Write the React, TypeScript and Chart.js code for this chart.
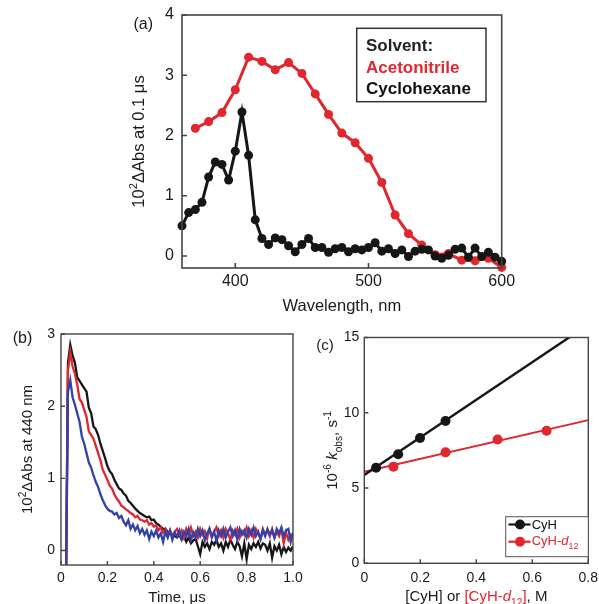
import React, { useEffect, useRef } from "react";
import { Chart, registerables } from "chart.js";
Chart.register(...registerables);

const FONT = "'Liberation Sans', Arial, Helvetica, sans-serif";
const RED = "#e0262e";
const BLACK = "#161616";
const BLUE = "#3242a8";
const FRAME = "#444444";
const TXT = "#1a1a1a";

// ---------- Panel (a) ----------
const wlAcn = [370, 380, 390, 400, 410, 420, 430, 440, 450, 460, 470, 480, 490, 500, 510, 520, 530, 540, 550, 560, 570, 580, 590, 600];
const absAcn = [2.12, 2.23, 2.38, 2.76, 3.30, 3.23, 3.09, 3.21, 3.03, 2.69, 2.35, 2.04, 1.88, 1.62, 1.22, 0.68, 0.37, 0.18, 0.02, 0.04, -0.07, -0.08, -0.04, -0.19];
const wlCy = [360, 365, 370, 375, 380, 385, 390, 395, 400, 405, 410, 415, 420, 425, 430, 435, 440, 445, 450, 455, 460, 465, 470, 475, 480, 485, 490, 495, 500, 505, 510, 515, 520, 525, 530, 535, 540, 545, 550, 555, 560, 565, 570, 575, 580, 585, 590, 595, 600];
const absCy = [0.50, 0.72, 0.77, 0.89, 1.31, 1.56, 1.52, 1.26, 1.74, 2.39, 1.67, 0.60, 0.29, 0.19, 0.30, 0.27, 0.17, 0.07, 0.19, 0.29, 0.14, 0.14, 0.06, 0.12, 0.14, 0.07, 0.12, 0.10, 0.14, 0.22, 0.08, 0.12, 0.04, 0.10, -0.01, 0.08, 0.11, 0.10, 0.00, -0.04, 0.01, 0.11, 0.13, -0.02, 0.13, -0.01, 0.06, -0.02, -0.09];
const xTicksA = [400, 500, 600];
const xTickLabelsA = ["400", "500", "600"];
const yTicksA = [0, 1, 2, 3, 4];
const yTickLabelsA = ["0", "1", "2", "3", "4"];

// ---------- Panel (b) ----------
const timeB = [0.02, 0.03, 0.04, 0.05, 0.06, 0.07, 0.08, 0.09, 0.10, 0.11,
  0.12, 0.13, 0.14, 0.15, 0.16, 0.17, 0.18, 0.19, 0.20, 0.21,
  0.22, 0.23, 0.24, 0.25, 0.26, 0.27, 0.28, 0.29, 0.30, 0.31,
  0.32, 0.33, 0.34, 0.35, 0.36, 0.37, 0.38, 0.39, 0.40, 0.41,
  0.42, 0.43, 0.44, 0.45, 0.46, 0.47, 0.48, 0.49, 0.50, 0.51,
  0.52, 0.53, 0.54, 0.55, 0.56, 0.57, 0.58, 0.59, 0.60, 0.61,
  0.62, 0.63, 0.64, 0.65, 0.66, 0.67, 0.68, 0.69, 0.70, 0.71,
  0.72, 0.73, 0.74, 0.75, 0.76, 0.77, 0.78, 0.79, 0.80, 0.81,
  0.82, 0.83, 0.84, 0.85, 0.86, 0.87, 0.88, 0.89, 0.90, 0.91,
  0.92, 0.93, 0.94, 0.95, 0.96, 0.97, 0.98, 0.99, 1.00];
const traceBlack = [-1, 2.6, 2.85, 2.7, 2.6, 2.4, 2.35, 2.3, 2.25, 2.2,
  1.98, 1.9, 1.72, 1.68, 1.6, 1.48, 1.38, 1.28, 1.17, 1.1,
  1.06, 0.98, 0.92, 0.86, 0.84, 0.79, 0.76, 0.69, 0.66, 0.62,
  0.58, 0.55, 0.52, 0.5, 0.48, 0.46, 0.47, 0.42, 0.43, 0.38,
  0.36, 0.33, 0.3, 0.3, 0.26, 0.25, 0.22, 0.2, 0.18, 0.22,
  0.15, 0.2, 0.12, 0.18, 0.1, 0.14, 0.16, 0.06, -0.05, 0.12,
  0.05, 0.1, 0.02, 0.12, 0.08, 0.15, 0.05, 0.1, 0.0, 0.12,
  0.05, 0.15, 0.08, 0.02, 0.12, 0.06, -0.08, 0.1, -0.12, 0.08,
  0.02, 0.1, 0.05, 0.12, 0.03, 0.1, 0.08, 0.0, 0.1, -0.1,
  0.06, 0.0, 0.08, -0.05, 0.05, -0.02, 0.04, 0.0, 0.06];
const traceRed = [-1, 2.5, 2.75, 2.55, 2.45, 2.3, 2.1, 2.05, 1.95, 1.85,
  1.65, 1.6, 1.55, 1.45, 1.35, 1.25, 1.12, 1.05, 0.98, 0.9,
  0.86, 0.78, 0.72, 0.68, 0.62, 0.6, 0.57, 0.55, 0.52, 0.5,
  0.46, 0.48, 0.43, 0.42, 0.4, 0.42, 0.36, 0.38, 0.33, 0.35,
  0.28, 0.32, 0.25, 0.3, 0.22, 0.28, 0.2, 0.26, 0.3, 0.22,
  0.28, 0.18, 0.3, 0.22, 0.32, 0.2, 0.26, 0.18, 0.3, 0.22,
  0.27, 0.17, 0.3, 0.2, 0.26, 0.32, 0.2, 0.28, 0.18, 0.3,
  0.24, 0.15, 0.28, 0.22, 0.3, 0.18, 0.27, 0.22, 0.32, 0.2,
  0.28, 0.18, 0.3, 0.24, 0.16, 0.3, 0.22, 0.28, 0.2, 0.3,
  0.18, 0.26, 0.2, 0.3, 0.1, 0.25, 0.15, 0.22, 0.2];
const traceBlue = [-1, 2.2, 2.36, 2.12, 2.02, 1.9, 1.78, 1.58, 1.48, 1.35,
  1.22, 1.15, 1.04, 0.95, 0.88, 0.78, 0.7, 0.63, 0.58, 0.55,
  0.54, 0.5, 0.52, 0.45, 0.48, 0.4, 0.35, 0.42, 0.3, 0.36,
  0.28, 0.34, 0.24, 0.3, 0.22, 0.28, 0.16, 0.26, 0.2, 0.28,
  0.18, 0.24, 0.12, 0.26, 0.18, 0.28, 0.15, 0.25, 0.2, 0.28,
  0.16, 0.26, 0.2, 0.3, 0.15, 0.25, 0.18, 0.3, 0.2, 0.28,
  0.14, 0.24, 0.3, 0.18, 0.26, 0.14, 0.28, 0.2, 0.3, 0.18,
  0.26, 0.32, 0.2, 0.28, 0.15, 0.3, 0.22, 0.28, 0.18, 0.3,
  0.22, 0.32, 0.2, 0.26, 0.16, 0.28, 0.2, 0.3, 0.22, 0.28,
  0.18, 0.3, 0.24, 0.32, 0.2, 0.28, 0.3, 0.12, 0.25];
const xTicksB = [0, 0.2, 0.4, 0.6, 0.8, 1.0];
const xTickLabelsB = ["0", "0.2", "0.4", "0.6", "0.8", "1.0"];
const yTicksB = [0, 1, 2, 3];
const yTickLabelsB = ["0", "1", "2", "3"];

// ---------- Panel (c) ----------
const cyhConc = [0.042, 0.121, 0.199, 0.29];
const cyhK = [6.35, 7.25, 8.32, 9.45];
const cydConc = [0.104, 0.29, 0.476, 0.651];
const cydK = [6.42, 7.37, 8.23, 8.8];
const fitConc = [0, 0.8];
const cyhFit = [5.86, 15.86];
const cydFit = [6.08, 9.51];
const xTicksC = [0, 0.2, 0.4, 0.6, 0.8];
const xTickLabelsC = ["0", "0.2", "0.4", "0.6", "0.8"];
const yTicksC = [0, 5, 10, 15];
const yTickLabelsC = ["0", "5", "10", "15"];

type Seg = { t: string; color?: string; italic?: boolean; bold?: boolean; sub?: boolean; sup?: boolean };

function drawRich(ctx: CanvasRenderingContext2D, segs: Seg[], cx: number, cy: number, size: number, rotate: boolean, align: "center" | "left" = "center") {
  ctx.save();
  ctx.translate(cx, cy);
  if (rotate) ctx.rotate(-Math.PI / 2);
  const fontFor = (s: Seg) =>
    `${s.italic ? "italic " : ""}${s.bold ? "bold " : ""}${s.sub || s.sup ? size * 0.68 : size}px ${FONT}`;
  let total = 0;
  segs.forEach((s) => {
    ctx.font = fontFor(s);
    total += ctx.measureText(s.t).width;
  });
  let x = align === "center" ? -total / 2 : 0;
  ctx.textAlign = "left";
  ctx.textBaseline = "alphabetic";
  const base = size * 0.36;
  segs.forEach((s) => {
    ctx.font = fontFor(s);
    ctx.fillStyle = s.color || TXT;
    const dy = s.sub ? size * 0.3 : s.sup ? -size * 0.42 : 0;
    ctx.fillText(s.t, x, base + dy);
    x += ctx.measureText(s.t).width;
  });
  ctx.restore();
}

function frameTicksPlugin(tickLen: number, lw: number) {
  return {
    id: "frameTicks",
    afterDatasetsDraw(chart: any) {
      const { ctx, chartArea: a, scales } = chart;
      ctx.save();
      ctx.strokeStyle = FRAME;
      ctx.lineWidth = lw;
      ctx.beginPath();
      scales.x.ticks.forEach((t: any) => {
        const px = scales.x.getPixelForValue(t.value);
        ctx.moveTo(px, a.bottom);
        ctx.lineTo(px, a.bottom - tickLen);
      });
      scales.y.ticks.forEach((t: any) => {
        const py = scales.y.getPixelForValue(t.value);
        ctx.moveTo(a.left, py);
        ctx.lineTo(a.left + tickLen, py);
      });
      ctx.stroke();
      ctx.strokeRect(a.left, a.top, a.right - a.left, a.bottom - a.top);
      ctx.restore();
    },
  };
}

function axisScale(opts: {
  min: number; max: number; ticks: number[]; labels: string[]; size: number; padding: number; axis: "x" | "y"; dim: number;
}) {
  return {
    type: "linear",
    min: opts.min,
    max: opts.max,
    grid: { display: false, drawTicks: false },
    border: { display: false },
    afterBuildTicks: (s: any) => {
      s.ticks = opts.ticks.map((v) => ({ value: v }));
    },
    afterFit: (s: any) => {
      if (opts.axis === "x") {
        s.height = opts.dim;
        s.paddingLeft = 0;
        s.paddingRight = 0;
      } else {
        s.width = opts.dim;
        s.paddingTop = 0;
        s.paddingBottom = 0;
      }
    },
    ticks: {
      autoSkip: false,
      maxRotation: 0,
      minRotation: 0,
      padding: opts.padding,
      color: TXT,
      font: { size: opts.size, family: FONT },
      callback: (_v: any, i: number) => opts.labels[i],
    },
  };
}

const baseOpts = (padding: any) => ({
  responsive: false,
  animation: false,
  events: [],
  layout: { padding, autoPadding: false },
  plugins: { legend: { display: false }, tooltip: { enabled: false } },
});

function pts(xs: number[], ys: number[]) {
  return xs.map((x, i) => ({ x, y: ys[i] }));
}

function makeA() {
  return {
    type: "scatter",
    data: {
      datasets: [
        {
          data: pts(wlCy, absCy), showLine: true, borderColor: BLACK, backgroundColor: BLACK,
          borderWidth: 3, pointRadius: 4.5, pointBorderWidth: 0, pointBackgroundColor: BLACK, clip: 6,
        },
        {
          data: pts(wlAcn, absAcn), showLine: true, borderColor: RED, backgroundColor: RED,
          borderWidth: 3, pointRadius: 4.5, pointBorderWidth: 0, pointBackgroundColor: RED, clip: 6,
        },
      ],
    },
    options: {
      ...baseOpts({ left: 0, top: 15, right: 28.3, bottom: 0 }),
      scales: {
        x: axisScale({ min: 360, max: 600, ticks: xTicksA, labels: xTickLabelsA, size: 16, padding: 4, axis: "x", dim: 52 }),
        y: axisScale({ min: -0.2, max: 4, ticks: yTicksA, labels: yTickLabelsA, size: 16, padding: 8, axis: "y", dim: 82 }),
      },
    },
    plugins: [
      frameTicksPlugin(5, 1.6),
      {
        id: "textA",
        afterDraw(chart: any) {
          const { ctx, chartArea: a } = chart;
          drawRich(ctx, [{ t: "10" }, { t: "2", sup: true }, { t: "\u0394Abs at 0.1 \u03bcs" }], a.left - 44, (a.top + a.bottom) / 2, 16.5, true);
          drawRich(ctx, [{ t: "Wavelength, nm" }], (a.left + a.right) / 2, a.bottom + 37, 16.5, false);
          drawRich(ctx, [{ t: "(a)" }], 43.3, 23, 16, false);
          // legend box
          ctx.save();
          ctx.strokeStyle = "#333";
          ctx.lineWidth = 1.5;
          ctx.fillStyle = "#fff";
          ctx.fillRect(256.7, 28.3, 129.3, 73.4);
          ctx.strokeRect(256.7, 28.3, 129.3, 73.4);
          ctx.restore();
          drawRich(ctx, [{ t: "Solvent:", bold: true, color: "#222" }], 266, 45, 17, false, "left");
          drawRich(ctx, [{ t: "Acetonitrile", bold: true, color: RED }], 266, 66.5, 17, false, "left");
          drawRich(ctx, [{ t: "Cyclohexane", bold: true, color: "#111" }], 266, 87.5, 17, false, "left");
        },
      },
    ],
  };
}

function makeB() {
  const ds = (ys: number[], c: string) => ({
    data: pts(timeB, ys), showLine: true, borderColor: c, backgroundColor: c,
    borderWidth: 2.3, pointRadius: 0, clip: 0,
  });
  return {
    type: "scatter",
    data: { datasets: [ds(traceBlue, BLUE), ds(traceRed, RED), ds(traceBlack, BLACK)] },
    options: {
      ...baseOpts({ left: 0, top: 14, right: 19, bottom: 0 }),
      scales: {
        x: axisScale({ min: 0, max: 1, ticks: xTicksB, labels: xTickLabelsB, size: 14, padding: 5, axis: "x", dim: 39 }),
        y: axisScale({ min: -0.2, max: 3, ticks: yTicksB, labels: yTickLabelsB, size: 14, padding: 6, axis: "y", dim: 61 }),
      },
    },
    plugins: [
      frameTicksPlugin(4, 1.4),
      {
        id: "textB",
        afterDraw(chart: any) {
          const { ctx, chartArea: a } = chart;
          drawRich(ctx, [{ t: "10" }, { t: "2", sup: true }, { t: "\u0394Abs at 440 nm" }], a.left - 34, (a.top + a.bottom) / 2, 15, true);
          drawRich(ctx, [{ t: "Time, \u03bcs" }], (a.left + a.right) / 2, a.bottom + 32, 15, false);
          drawRich(ctx, [{ t: "(b)" }], 22.5, 17.5, 16, false);
        },
      },
    ],
  };
}

function makeC() {
  return {
    type: "scatter",
    data: {
      datasets: [
        { data: pts(cyhConc, cyhK), showLine: false, pointRadius: 5, pointBorderWidth: 0, pointBackgroundColor: BLACK, backgroundColor: BLACK },
        { data: pts(cydConc, cydK), showLine: false, pointRadius: 5, pointBorderWidth: 0, pointBackgroundColor: RED, backgroundColor: RED },
        { data: pts(fitConc, cyhFit), showLine: true, borderColor: BLACK, borderWidth: 2.4, pointRadius: 0, clip: 0 },
        { data: pts(fitConc, cydFit), showLine: true, borderColor: RED, borderWidth: 2, pointRadius: 0, clip: 0 },
      ],
    },
    options: {
      ...baseOpts({ left: 0, top: 17.5, right: 10.7, bottom: 0 }),
      scales: {
        x: axisScale({ min: 0, max: 0.8, ticks: xTicksC, labels: xTickLabelsC, size: 14, padding: 6, axis: "x", dim: 40.7 }),
        y: axisScale({ min: 0, max: 15, ticks: yTicksC, labels: yTickLabelsC, size: 14, padding: 5, axis: "y", dim: 64.3 }),
      },
    },
    plugins: [
      frameTicksPlugin(4, 1.4),
      {
        id: "textC",
        afterDraw(chart: any) {
          const { ctx, chartArea: a } = chart;
          drawRich(ctx, [
            { t: "10" }, { t: "-6", sup: true }, { t: " " }, { t: "k", italic: true }, { t: "obs", sub: true },
            { t: ", s" }, { t: "-1", sup: true },
          ], a.left - 32.6, (a.top + a.bottom) / 2, 15, true);
          drawRich(ctx, [
            { t: "[CyH] or " }, { t: "[CyH-", color: RED }, { t: "d", italic: true, color: RED },
            { t: "12", sub: true, color: RED }, { t: "]", color: RED }, { t: ", M" },
          ], (a.left + a.right) / 2, a.bottom + 32.7, 15, false);
          drawRich(ctx, [{ t: "(c)" }], 25, 25, 15, false);
          // legend
          const bx = 205.7, by = 196.7, bw = a.right - 205.7, bh = 40;
          ctx.save();
          ctx.fillStyle = "#fff";
          ctx.fillRect(bx, by, bw, bh);
          ctx.strokeStyle = "#555";
          ctx.lineWidth = 1;
          ctx.strokeRect(bx, by, bw, bh);
          const rows = [
            { y: 204.5, c: BLACK },
            { y: 221.7, c: RED },
          ];
          rows.forEach((r) => {
            ctx.strokeStyle = r.c;
            ctx.lineWidth = 2.2;
            ctx.beginPath();
            ctx.moveTo(208.5, r.y);
            ctx.lineTo(230.5, r.y);
            ctx.stroke();
            ctx.fillStyle = r.c;
            ctx.beginPath();
            ctx.arc(220, r.y, 5, 0, Math.PI * 2);
            ctx.fill();
          });
          ctx.restore();
          drawRich(ctx, [{ t: "CyH", color: "#111" }], 231.7, 204.5, 13, false, "left");
          drawRich(ctx, [{ t: "CyH-", color: RED }, { t: "d", italic: true, color: RED }, { t: "12", sub: true, color: RED }], 231.7, 220.5, 13, false, "left");
        },
      },
    ],
  };
}

function Panel({ make, left, top, width, height }: { make: () => any; left: number; top: number; width: number; height: number }) {
  const ref = useRef<HTMLCanvasElement>(null);
  useEffect(() => {
    const chart = new Chart(ref.current as HTMLCanvasElement, make());
    return () => chart.destroy();
  }, []);
  return (
    <canvas
      ref={ref}
      width={width}
      height={height}
      style={{ position: "absolute", left, top, width, height, display: "block" }}
    />
  );
}

export default function App() {
  return (
    <div style={{ position: "absolute", left: 0, top: 0, width: 599, height: 604, background: "#fff", overflow: "hidden" }}>
      <Panel make={makeA} left={100} top={0} width={430} height={320} />
      <Panel make={makeC} left={300} top={320} width={299} height={284} />
      <Panel make={makeB} left={0} top={320} width={312} height={284} />
    </div>
  );
}
